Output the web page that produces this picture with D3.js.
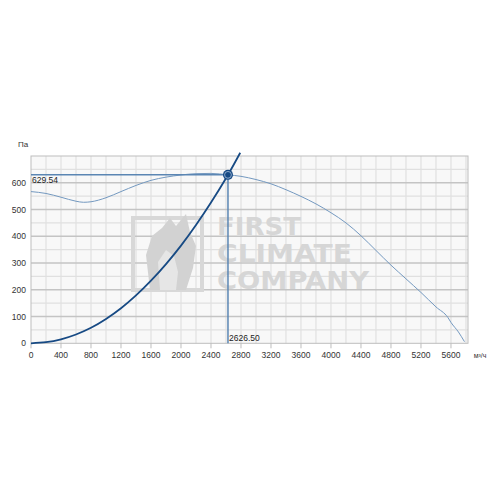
<!DOCTYPE html>
<html>
<head>
<meta charset="utf-8">
<script src="https://cdn.jsdelivr.net/npm/d3@7"></script>
<style>
  body { margin: 0; background: #fff; }
  svg { display: block; font-family: "Liberation Sans", Arial, sans-serif; }
</style>
</head>
<body>
<script>
// fan curve (m3/h, Pa)
var fanQ = [0, 200, 400, 600, 700, 800, 1000, 1200, 1400, 1600, 1800, 2000, 2200, 2400, 2626.5,
            2800, 3000, 3200, 3400, 3600, 3800, 4000, 4200, 4400, 4600, 4800, 5000, 5200, 5400,
            5560, 5600, 5700, 5780];
var fanP = [567, 560, 546, 531, 527, 529, 544, 567, 590, 609, 621, 629, 634, 635, 629.54,
            624, 612, 596, 574, 549, 521, 488, 450, 402, 347, 292, 241, 190, 136,
            96, 78, 42, 6];
// system (network) curve
var sysQ = [0, 200, 400, 600, 800, 1000, 1200, 1400, 1600, 1800, 2000, 2200, 2400, 2600, 2626.5, 2790];
var sysP = [0, 4, 15, 33, 58, 91, 131, 179, 234, 296, 365, 442, 526, 617, 629.54, 712];
// working point
var workQ = 2626.50, workP = 629.54;
var xTicks = [0, 400, 800, 1200, 1600, 2000, 2400, 2800, 3200, 3600, 4000, 4400, 4800, 5200, 5600];
var yTicks = [0, 100, 200, 300, 400, 500, 600];
var yUnit = "Па", xUnit = "м³/ч";
var watermark = ["FIRST", "CLIMATE", "COMPANY"];

var W = 500, H = 500;
var x = d3.scaleLinear().domain([0, 5827]).range([31, 468]);
var y = d3.scaleLinear().domain([0, 700]).range([343.3, 156]);

var svg = d3.select("body").append("svg").attr("width", W).attr("height", H);

// plot background
svg.append("rect")
    .attr("x", x(0)).attr("y", y(700))
    .attr("width", x(5827) - x(0)).attr("height", y(0) - y(700))
    .attr("fill", "#f8f8f8");

// vertical grid every 200
var grid = svg.append("g");
grid.selectAll("line.v")
    .data(d3.range(200, 5827, 200))
    .enter().append("line")
    .attr("x1", d => x(d)).attr("x2", d => x(d))
    .attr("y1", y(0)).attr("y2", y(700))
    .attr("stroke", "#e2e2e2").attr("stroke-width", 1.3);
// horizontal minor (50s) and major (100s)
grid.selectAll("line.hm")
    .data(d3.range(50, 700, 100))
    .enter().append("line")
    .attr("x1", x(0)).attr("x2", x(5827))
    .attr("y1", d => y(d)).attr("y2", d => y(d))
    .attr("stroke", "#e0e0e0").attr("stroke-width", 1.3);
grid.selectAll("line.hM")
    .data(d3.range(100, 700, 100))
    .enter().append("line")
    .attr("x1", x(0)).attr("x2", x(5827))
    .attr("y1", d => y(d)).attr("y2", d => y(d))
    .attr("stroke", "#c4c4c4").attr("stroke-width", 1.6);

// watermark
var wm = svg.append("g").attr("fill", "#d6d6d6");
wm.append("rect").attr("x", 133).attr("y", 218).attr("width", 69).attr("height", 72)
    .attr("fill", "none").attr("stroke", "#d8d8d8").attr("stroke-width", 4);
wm.append("path")
    .attr("d", "M150,290 L146,255 L152,236 L162,228 L170,218 L176,226 L186,214 L190,232 L196,246 L193,268 L186,290 Z")
    .attr("fill", "#d2d2d2");
wm.append("path")
    .attr("d", "M160,290 L158,262 L166,250 L174,256 L178,272 L176,290 Z")
    .attr("fill", "#e6e6e6");
var wmY = [235, 262, 289], wmW = [84, 135, 152];
wm.selectAll("text").data(watermark).enter().append("text")
    .attr("x", 217).attr("y", (d, i) => wmY[i])
    .attr("font-size", 24).attr("font-weight", "bold")
    .attr("font-family", "DejaVu Sans, sans-serif")
    .attr("textLength", (d, i) => wmW[i]).attr("lengthAdjust", "spacingAndGlyphs")
    .text(d => d);

// plot border
svg.append("rect")
    .attr("x", x(0)).attr("y", y(700))
    .attr("width", x(5827) - x(0)).attr("height", y(0) - y(700))
    .attr("fill", "none").attr("stroke", "#bdbdbd").attr("stroke-width", 1);

// x axis ticks and labels
var xa = svg.append("g").attr("font-size", 8.5).attr("fill", "#333");
xa.selectAll("line").data(xTicks).enter().append("line")
    .attr("x1", d => x(d)).attr("x2", d => x(d))
    .attr("y1", y(0)).attr("y2", y(0) + 5)
    .attr("stroke", "#bdbdbd");
xa.selectAll("text").data(xTicks).enter().append("text")
    .attr("x", d => x(d)).attr("y", 358)
    .attr("text-anchor", "middle")
    .text(d => d);
xa.append("text").attr("x", 480).attr("y", 358).attr("font-size", 7).attr("text-anchor", "middle").text(xUnit);

// y axis labels
var ya = svg.append("g").attr("font-size", 8.5).attr("fill", "#333");
ya.selectAll("text").data(yTicks).enter().append("text")
    .attr("x", 26).attr("y", d => y(d) + 3)
    .attr("text-anchor", "end")
    .text(d => d);
ya.append("text").attr("x", 18).attr("y", 147).attr("font-size", 8).text(yUnit);

// fan curve
var fanData = fanQ.map((q, i) => [q, fanP[i]]);
svg.append("path")
    .datum(fanData)
    .attr("d", d3.line().x(d => x(d[0])).y(d => y(d[1])).curve(d3.curveMonotoneX))
    .attr("fill", "none").attr("stroke", "#7499c0").attr("stroke-width", 1);

// working point guide lines
svg.append("line")
    .attr("x1", x(0)).attr("x2", x(workQ))
    .attr("y1", y(workP)).attr("y2", y(workP))
    .attr("stroke", "#5b86b3").attr("stroke-width", 1.5);
svg.append("line")
    .attr("x1", x(workQ)).attr("x2", x(workQ))
    .attr("y1", y(workP)).attr("y2", y(0))
    .attr("stroke", "#5b86b3").attr("stroke-width", 1.5);
svg.append("text").attr("x", x(0) + 1).attr("y", y(workP) + 8)
    .attr("font-size", 8.5).attr("fill", "#222").text(workP.toFixed(2));
svg.append("text").attr("x", x(workQ) + 1).attr("y", y(0) - 2)
    .attr("font-size", 8.5).attr("fill", "#222").text(workQ.toFixed(2));

// system curve
var sysData = sysQ.map((q, i) => [q, sysP[i]]);
svg.append("path")
    .datum(sysData)
    .attr("d", d3.line().x(d => x(d[0])).y(d => y(d[1])).curve(d3.curveMonotoneX))
    .attr("fill", "none").attr("stroke", "#174a84").attr("stroke-width", 1.8);

// working point marker
svg.append("circle").attr("cx", x(workQ)).attr("cy", y(workP)).attr("r", 5)
    .attr("fill", "#174a84");
svg.append("circle").attr("cx", x(workQ)).attr("cy", y(workP)).attr("r", 3.4)
    .attr("fill", "none").attr("stroke", "#a9c0dc").attr("stroke-width", 0.8);
</script>
</body>
</html>
